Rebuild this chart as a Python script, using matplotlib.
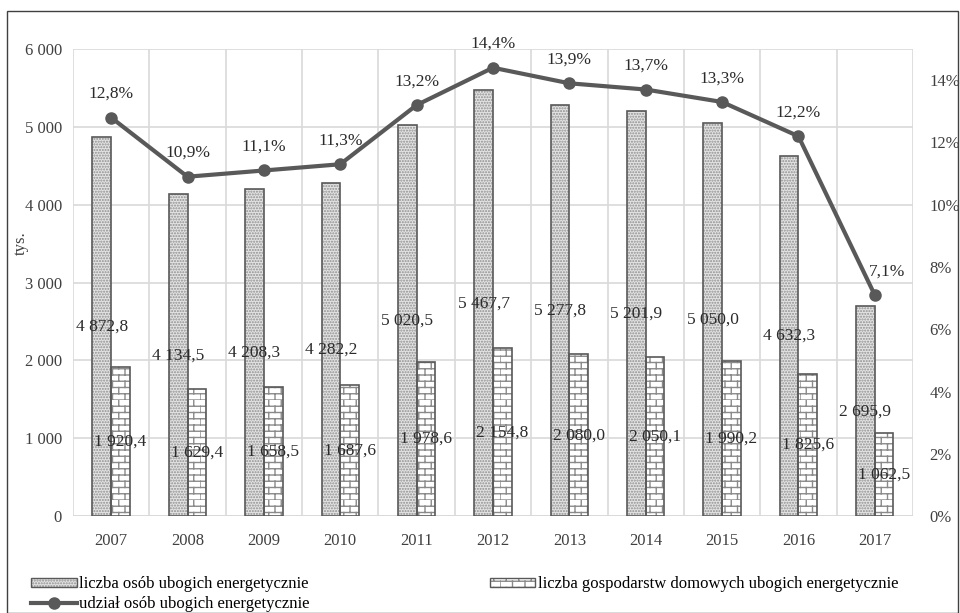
import numpy as np
import matplotlib
matplotlib.use("Agg")
import matplotlib.pyplot as plt
import matplotlib.hatch as mhatch
from matplotlib.path import Path
from matplotlib.patches import Patch, Rectangle
from matplotlib.lines import Line2D
from matplotlib.legend_handler import HandlerTuple
from matplotlib.ticker import FuncFormatter

# data
years = ["2007", "2008", "2009", "2010", "2011", "2012", "2013", "2014", "2015", "2016", "2017"]
people = [4872.8, 4134.5, 4208.3, 4282.2, 5020.5, 5467.7, 5277.8, 5201.9, 5050.0, 4632.3, 2695.9]
households = [1920.4, 1629.4, 1658.5, 1687.6, 1978.6, 2154.8, 2080.0, 2050.1, 1990.2, 1825.6, 1062.5]
share = [12.8, 10.9, 11.1, 11.3, 13.2, 14.4, 13.9, 13.7, 13.3, 12.2, 7.1]

lbl_people = "liczba osób ubogich energetycznie"
lbl_house = "liczba gospodarstw domowych ubogich energetycznie"
lbl_share = "udział osób ubogich energetycznie"


# brick pattern hatch (hooked on the 'O' character, large circles are not used here)
class BrickHatch(mhatch.HatchPatternBase):
    def __init__(self, hatch, density):
        self.rows = 16
        self.cols = 8
        if "O" in hatch:
            self.num_vertices = (self.rows + self.rows * self.cols) * 2
        else:
            self.num_vertices = 0

    def set_vertices_and_codes(self, vertices, codes):
        segs = []
        for r in range(self.rows):
            y0 = r / self.rows
            y1 = (r + 1) / self.rows
            segs.append(((0, y0), (1, y0)))
            off = 0.5 / self.cols if r % 2 else 0.0
            for c in range(self.cols):
                x = c / self.cols + off
                segs.append(((x, y0), (x, y1)))
        vertices[:] = np.array(segs).reshape(-1, 2)
        codes[0::2] = Path.MOVETO
        codes[1::2] = Path.LINETO


mhatch._hatch_types = [t for t in mhatch._hatch_types if t is not mhatch.LargeCircles]
mhatch._hatch_types.append(BrickHatch)

plt.rcParams["font.family"] = ["Liberation Serif", "DejaVu Serif"]
plt.rcParams["font.size"] = 12
plt.rcParams["hatch.linewidth"] = 1.0

def pl(v, dec=1):
    s = f"{v:,.{dec}f}"
    return s.replace(",", " ").replace(".", ",")

fig = plt.figure(figsize=(9.6, 6.13), dpi=100)
ax = fig.add_axes([0.076, 0.158, 0.875, 0.762])
ax2 = ax.twinx()

x = np.arange(len(years))
w = 0.245
edge = "#595959"
txtc = "#2b2b2b"

# dotted bars
ax.bar(x - w / 2, people, w, color="#e3e3e3", hatch="......", edgecolor="#8f8f8f", linewidth=0, zorder=2)
ax.bar(x - w / 2, people, w, fill=False, edgecolor=edge, linewidth=1.2, zorder=3)
# brick bars
ax.bar(x + w / 2, households, w, color="white", hatch="O", edgecolor="#8a8a8a", linewidth=0, zorder=2)
ax.bar(x + w / 2, households, w, fill=False, edgecolor=edge, linewidth=1.2, zorder=3)

for i in range(len(years)):
    ax.text(x[i] - w / 2, people[i] / 2, pl(people[i]), ha="center", va="center", fontsize=12.5, color=txtc, zorder=5)
    ax.text(x[i] + w / 2, households[i] / 2, pl(households[i]), ha="center", va="center", fontsize=12.5, color=txtc, zorder=5)

ax.set_xlim(-0.5, len(years) - 0.5)
ax.set_ylim(0, 6000)
ax.set_yticks(np.arange(0, 6001, 1000))
ax.yaxis.set_major_formatter(FuncFormatter(lambda v, p: pl(v, 0)))
ax.set_xticks(x)
ax.set_xticklabels(years)
ax.set_ylabel("tys.", fontsize=12, color="#404040")
ax.yaxis.set_label_coords(-0.052, 0.585)
ax.grid(axis="y", color="#d9d9d9", linewidth=1.2, zorder=0)
ax.set_axisbelow(True)
for xb in np.arange(-0.5, len(years), 1.0):
    ax.axvline(xb, color="#d9d9d9", linewidth=1.2, zorder=0)
for s in ax.spines.values():
    s.set_visible(False)
for s in ax2.spines.values():
    s.set_visible(False)
ax.axhline(0, color="#d9d9d9", linewidth=1.2, zorder=1)
ax.tick_params(length=0, labelsize=12, colors="#404040")
ax.tick_params(axis="x", pad=12)
ax.tick_params(axis="y", pad=8)

# line on right axis
ax2.plot(x, share, color=edge, linewidth=3, marker="o", markersize=8, zorder=6)
for i in range(len(years)):
    dx = 9 if i == len(years) - 1 else 0
    ax2.annotate(pl(share[i]) + "%", (x[i], share[i]), xytext=(dx, 17), textcoords="offset points",
                 ha="center", va="center", fontsize=12.5, color=txtc)
ax2.set_ylim(0, 15)
ax2.set_yticks(np.arange(0, 15, 2))
ax2.yaxis.set_major_formatter(FuncFormatter(lambda v, p: f"{v:.0f}%"))
ax2.tick_params(length=0, labelsize=12, colors="#404040", pad=12)

# legend
h1 = Patch(facecolor="#e3e3e3", hatch="......", edgecolor="#8f8f8f", linewidth=0)
h1b = Patch(fill=False, edgecolor=edge, linewidth=1)
h2 = Patch(facecolor="white", hatch="O", edgecolor="#8a8a8a", linewidth=0)
h2b = Patch(fill=False, edgecolor=edge, linewidth=1)
h3 = Line2D([], [], color=edge, linewidth=3, marker="o", markersize=8)
fig.legend([(h1, h1b), h3, (h2, h2b)], [lbl_people, lbl_share, lbl_house],
           handler_map={tuple: HandlerTuple(ndivide=1, pad=0)},
           ncol=2, loc="upper left", bbox_to_anchor=(0.032, 0.06), frameon=False,
           handlelength=2.75, handleheight=0.5, handletextpad=0.15, columnspacing=10.8,
           labelspacing=0.25, borderaxespad=0, borderpad=0, fontsize=12)

# outer frame
fig.add_artist(Rectangle((7 / 960, 0.5 / 613), 951 / 960, 602 / 613, transform=fig.transFigure,
                         fill=False, edgecolor="#404040", linewidth=1))

fig.savefig("out.png", dpi=100)
